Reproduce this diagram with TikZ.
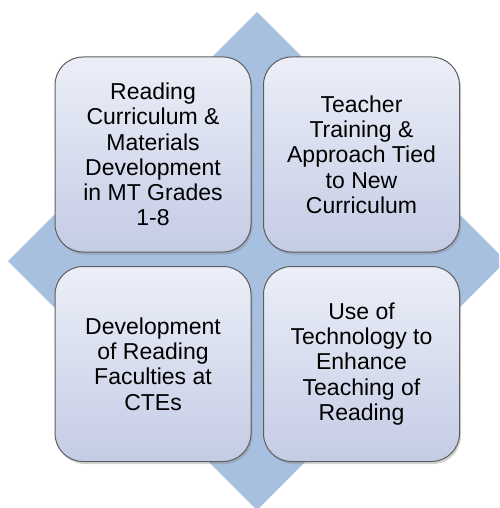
\documentclass[tikz,border=0pt]{standalone}
\usepackage{fontspec}
\setmainfont{Liberation Sans}
\usetikzlibrary{shadows}
\definecolor{diam}{HTML}{A7C0DF}
\definecolor{boxtop}{HTML}{ECEFF8}
\definecolor{boxbot}{HTML}{C4CCE5}
\definecolor{boxline}{HTML}{5E5E5E}
\tikzset{
  quad/.style={draw=boxline, line width=1pt, rounded corners=28pt,
    top color=boxtop, bottom color=boxbot,
    minimum width=196pt, minimum height=195pt, inner sep=0pt,
    align=center, font=\fontsize{23}{25.3}\selectfont,
    drop shadow={opacity=0.35, shadow xshift=1.5pt, shadow yshift=-2.5pt}},
  diamondbg/.style={fill=diam, draw=none}
}
\begin{document}
\begin{tikzpicture}[x=1pt,y=-1pt]
\useasboundingbox (0,0) rectangle (499,508);
\begin{scope}
\clip (0,0) rectangle (499,508);
\coordinate (dt) at (257,12);
\coordinate (dr) at (506,261);
\coordinate (db) at (257,510);
\coordinate (dl) at (8,261);
\fill[diamondbg] (dt) -- (dr) -- (db) -- (dl) -- cycle;
\end{scope}
\node[quad] (tl) at (153,154.5) {Reading\\Curriculum \&\\Materials\\Development\\in MT Grades\\1-8};
\node[quad] (tr) at (361.5,154.5) {Teacher\\Training \&\\Approach Tied\\to New\\Curriculum};
\node[quad] (bl) at (153,364) {Development\\of Reading\\Faculties at\\CTEs};
\node[quad] (br) at (361.5,364) {Use of\\Technology to\\Enhance\\Teaching of\\Reading};
\end{tikzpicture}
\end{document}
